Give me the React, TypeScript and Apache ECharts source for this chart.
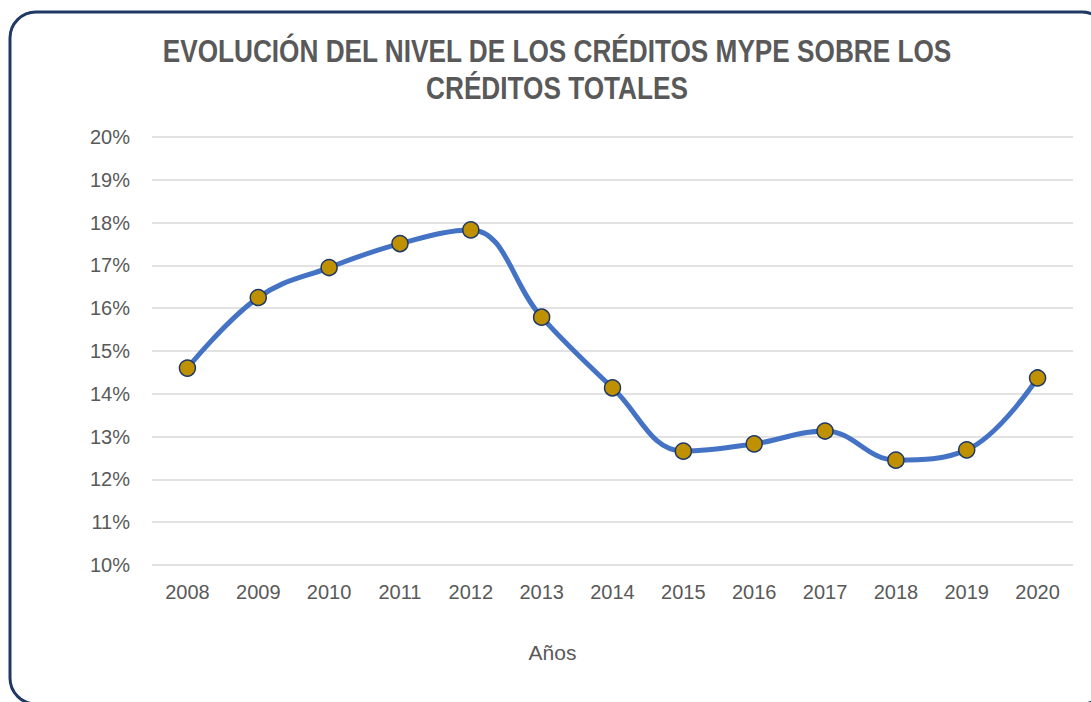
import React, { useEffect, useRef } from "react";
import * as echarts from "echarts";

const years = ["2008", "2009", "2010", "2011", "2012", "2013", "2014", "2015", "2016", "2017", "2018", "2019", "2020"];
const mypeShare = [14.6, 16.25, 16.95, 17.51, 17.83, 15.79, 14.14, 12.66, 12.83, 13.13, 12.45, 12.69, 14.37];
const titleLines = ["EVOLUCIÓN DEL NIVEL DE LOS CRÉDITOS MYPE SOBRE LOS", "CRÉDITOS TOTALES"];
const xAxisName = "Años";

const FONT = "'Liberation Sans', Arial, sans-serif";
const GRAY = "#595959";

export default function App() {
  const ref = useRef<HTMLDivElement>(null);
  useEffect(() => {
    if (!ref.current) return;
    const chart = echarts.init(ref.current, null, { renderer: "svg" });
    const titleStyle = {
      fontFamily: FONT,
      fontWeight: "bold",
      fontSize: 31,
      fill: GRAY,
      textAlign: "center",
      textVerticalAlign: "middle",
    };
    chart.setOption({
      animation: false,
      backgroundColor: "#ffffff",
      graphic: [
        {
          type: "rect",
          shape: { x: 10, y: 12, width: 1098, height: 692, r: 26 },
          style: { fill: "none", stroke: "#1F3864", lineWidth: 3 },
          silent: true,
          z: 100,
        },
        {
          type: "text",
          x: 557,
          y: 51,
          scaleX: 0.845,
          style: { ...titleStyle, text: titleLines[0] },
        },
        {
          type: "text",
          x: 557,
          y: 88,
          scaleX: 0.845,
          style: { ...titleStyle, text: titleLines[1] },
        },
      ],
      grid: { left: 152, right: 18, top: 137, bottom: 137 },
      xAxis: {
        type: "category",
        data: years,
        boundaryGap: true,
        name: xAxisName,
        nameLocation: "middle",
        nameGap: 77,
        nameTextStyle: { fontFamily: FONT, fontSize: 21, color: GRAY, padding: [0, 120, 0, 0] },
        axisLine: { show: false },
        axisTick: { show: false },
        axisLabel: { fontFamily: FONT, fontSize: 20, color: GRAY, margin: 17 },
      },
      yAxis: {
        type: "value",
        min: 10,
        max: 20,
        interval: 1,
        axisLine: { show: false },
        axisTick: { show: false },
        axisLabel: { fontFamily: FONT, fontSize: 20, color: GRAY, margin: 22, formatter: "{value}%" },
        splitLine: { lineStyle: { color: "#D9D9D9", width: 1.5 } },
      },
      series: [
        {
          type: "line",
          data: mypeShare,
          smooth: 0.4,
          lineStyle: { color: "#4472C4", width: 5 },
          symbol: "circle",
          symbolSize: 16,
          itemStyle: { color: "#BF9000", borderColor: "#1F3864", borderWidth: 1.5 },
        },
      ],
    });
    return () => chart.dispose();
  }, []);
  return <div ref={ref} style={{ position: "fixed", left: 0, top: 0, width: 1091, height: 702 }} />;
}
